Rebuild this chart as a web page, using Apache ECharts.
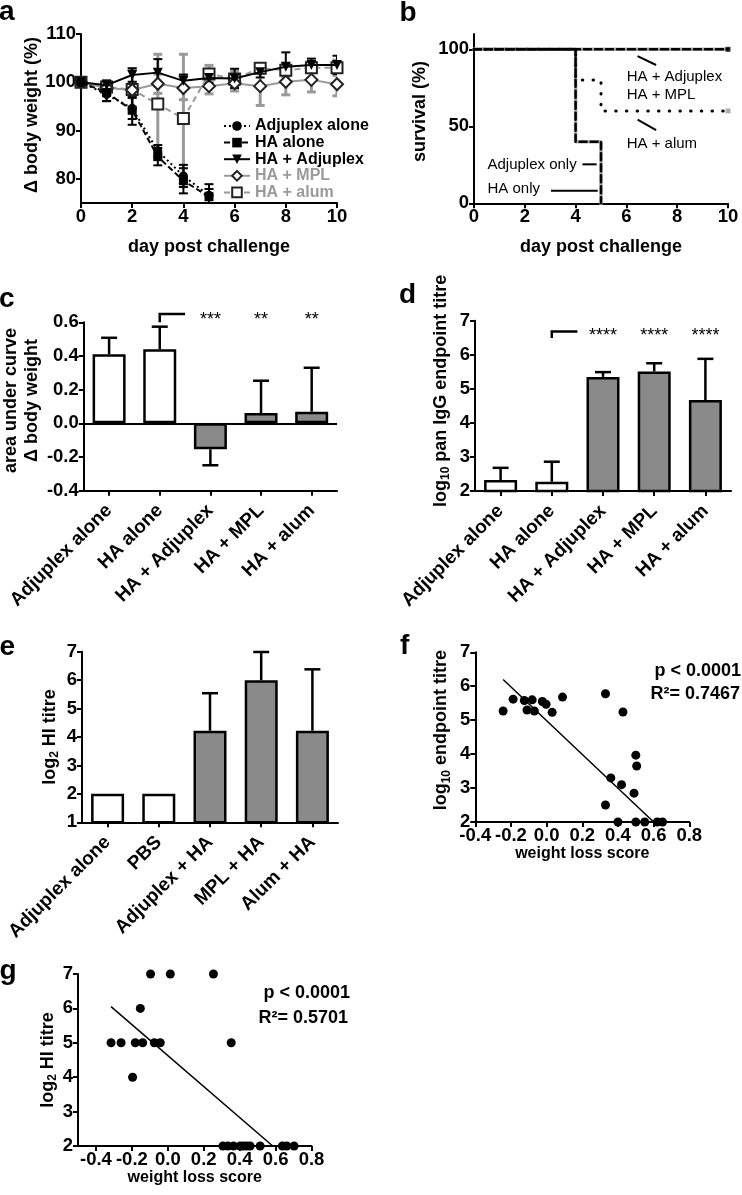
<!DOCTYPE html>
<html><head><meta charset="utf-8">
<script src="https://cdn.jsdelivr.net/npm/echarts@6/dist/echarts.min.js"></script>
<style>html,body{margin:0;padding:0;background:#fff}#c{width:742px;height:1195px}</style>
</head><body><div id="c"></div>
<script>
// ================= DATA =================
// Panel a: body weight (% of day 0), mean and SD
const days = [0, 1, 2, 3, 4, 5, 6, 7, 8, 9, 10];
const adjAloneMean = [100, 97.5, 94.6, 85.8, 80.6, 76.6];
const adjAloneSD   = [0, 1.4, 2.2, 1.2, 2.3, 2.3];
const haAloneMean  = [100, 97.9, 94.2, 84.6, 79.6, 76.3];
const haAloneSD    = [0, 1.8, 3.0, 1.8, 2.6, 1.6];
const haAdjMean    = [100, 99.4, 101.5, 102.0, 100.3, 100.9, 100.8, 102.1, 103.2, 103.6, 103.6];
const haAdjSD      = [0, 1.0, 1.4, 2.8, 1.3, 1.0, 2.0, 1.1, 3.0, 1.3, 1.9];
const haMplMean    = [100, 98.8, 98.4, 99.7, 98.8, 99.2, 99.8, 99.2, 100.1, 100.5, 99.6];
const haMplSD      = [0, 0.8, 1.6, 2.0, 2.4, 1.6, 1.6, 4.0, 2.7, 2.5, 2.4];
const haAlumMean   = [100, 99.0, 98.5, 95.5, 92.5, 101.7, 100.7, 102.9, 102.5, 103.0, 103.0];
const haAlumSD     = [0, 1.0, 4.3, 10.3, 13.3, 1.8, 1.6, 1.0, 1.3, 1.0, 1.6];

// Panel b: survival (%) steps [day, %]
const survHAonly   = [[0, 100], [4, 40], [5, 0]];
const survAdjOnly  = [[0, 100], [4, 40], [5, 0]];
const survHAAdj    = [[0, 100], [10, 100]];
const survHAMPL    = [[0, 100], [10, 100]];
const survHAAlum   = [[0, 100], [4, 80], [5, 60], [10, 60]];
const survCensorBlack = [[10, 100]];
const survCensorGray  = [[10, 60]];

// Panel c: area under curve
const groupCats = ['Adjuplex alone', 'HA alone', 'HA + Adjuplex', 'HA + MPL', 'HA + alum'];
const isAdjuvanted = [false, false, true, true, true];
const aucMean = [0.41, 0.44, -0.154, 0.061, 0.069];
const aucSD   = [0.098, 0.134, 0.095, 0.192, 0.261];
const aucStars = ['', '', '***', '**', '**'];

// Panel d: log10 pan IgG endpoint titre
const igMean = [2.32, 2.27, 5.35, 5.51, 4.67];
const igSD   = [0.36, 0.59, 0.14, 0.24, 1.21];
const igStars = ['', '', '****', '****', '****'];

// Panel e: log2 HI titre
const hiCats = ['Adjuplex alone', 'PBS', 'Adjuplex + HA', 'MPL + HA', 'Alum + HA'];
const hiAdjuvanted = [false, false, true, true, true];
const hiMean = [2, 2, 4.22, 6.0, 4.22];
const hiSD   = [0, 0, 1.32, 0.99, 2.16];

// Panel f: weight loss score vs log10 endpoint titre
const fX = [-0.244, -0.188, -0.125, -0.110, -0.081, -0.069, -0.024, -0.003, 0.031, 0.089, 0.330, 0.428,
            0.500, 0.505, 0.360, 0.420, 0.490, 0.330, 0.400, 0.500, 0.550, 0.620, 0.650];
const fY = [5.27, 5.62, 5.58, 5.30, 5.60, 5.27, 5.55, 5.47, 5.23, 5.68, 5.78, 5.24,
            3.97, 3.65, 3.30, 3.10, 2.85, 2.50, 2.00, 2.00, 2.00, 2.00, 2.00];
const fFit = [[-0.244, 6.2], [0.60, 2.0]];
const fStats = ['p < 0.0001', 'R\u00b2= 0.7467'];

// Panel g: weight loss score vs log2 HI titre
const gX = [-0.096, 0.014, 0.254, -0.153, -0.316, -0.260, -0.181, -0.140, -0.075, -0.042, 0.353, -0.196,
            0.307, 0.334, 0.366, 0.403, 0.421, 0.440, 0.458, 0.514, 0.638, 0.662, 0.703];
const gY = [7, 7, 7, 6, 5, 5, 5, 5, 5, 5, 5, 4,
            2, 2, 2, 2, 2, 2, 2, 2, 2, 2, 2];
const gFit = [[-0.316, 6.05], [0.584, 2.0]];
const gStats = ['p < 0.0001', 'R\u00b2= 0.5701'];

// ================= STYLE =================
const FONT = "'Liberation Sans', Arial, Helvetica, sans-serif";
const TFS = 18.5;
const BLACK = '#000';
const GRAY = '#9a9a9a';
const BAR_GRAY = '#8a8a8a';

const axisLineS = {show: true, onZero: false, lineStyle: {color: BLACK, width: 2}};
const tickS = {show: true, inside: false, length: 5, lineStyle: {color: BLACK, width: 2}};
const labS = (extra) => Object.assign({color: BLACK, fontFamily: FONT, fontWeight: 'bold', fontSize: TFS}, extra || {});
const nameS = (extra) => Object.assign({color: BLACK, fontFamily: FONT, fontWeight: 'bold', fontSize: 18}, extra || {});
const subRich = {
  n: {fontFamily: FONT, fontWeight: 'bold', fontSize: 18, color: BLACK, lineHeight: 22},
  s: {fontFamily: FONT, fontWeight: 'bold', fontSize: 12, color: BLACK, verticalAlign: 'bottom', lineHeight: 12}
};

function valX(gi, min, max, interval, name, gap, extra) {
  return Object.assign({
    type: 'value', gridIndex: gi, min, max, interval,
    axisLine: axisLineS, axisTick: tickS, splitLine: {show: false},
    axisLabel: labS({margin: 4}),
    name, nameLocation: 'middle', nameGap: gap, nameTextStyle: nameS()
  }, extra || {});
}
function valY(gi, min, max, interval, name, gap, extra) {
  return Object.assign({
    type: 'value', gridIndex: gi, min, max, interval,
    axisLine: axisLineS, axisTick: tickS, splitLine: {show: false},
    axisLabel: labS({margin: 5}),
    name, nameLocation: 'middle', nameRotate: 90, nameGap: gap, nameTextStyle: nameS()
  }, extra || {});
}
function catX(gi, cats) {
  return {
    type: 'category', gridIndex: gi, data: cats, boundaryGap: true,
    axisLine: axisLineS, axisTick: Object.assign({}, tickS, {alignWithLabel: true}),
    axisLabel: labS({rotate: 45, interval: 0, margin: 17, fontSize: 19})
  };
}

// Error bars on value axes (both directions)
function errXY(xi, xs, means, sds, color, cap, width, z) {
  return {
    type: 'custom', xAxisIndex: xi, yAxisIndex: xi, z, clip: true, silent: true,
    data: means.map((m, i) => [xs[i], m, sds[i]]),
    renderItem(p, api) {
      const x = api.value(0), m = api.value(1), s = api.value(2);
      if (!s) return null;
      const a = api.coord([x, m - s]), b = api.coord([x, m + s]);
      const st = {stroke: color, lineWidth: width};
      return {type: 'group', children: [
        {type: 'line', shape: {x1: a[0], y1: a[1], x2: b[0], y2: b[1]}, style: st},
        {type: 'line', shape: {x1: a[0] - cap, y1: a[1], x2: a[0] + cap, y2: a[1]}, style: st},
        {type: 'line', shape: {x1: b[0] - cap, y1: b[1], x2: b[0] + cap, y2: b[1]}, style: st}
      ]};
    }
  };
}
// One-sided error bars on bars (away from zero)
function errBar(ai, means, sds) {
  return {
    type: 'custom', xAxisIndex: ai, yAxisIndex: ai, z: 3, silent: true,
    data: means.map((m, i) => [i, m, sds[i]]),
    renderItem(p, api) {
      const i = api.value(0), m = api.value(1), s = api.value(2);
      if (!s) return null;
      const end = m >= 0 ? m + s : m - s;
      const a = api.coord([i, m]), b = api.coord([i, end]);
      const st = {stroke: BLACK, lineWidth: 2.5};
      return {type: 'group', children: [
        {type: 'line', shape: {x1: a[0], y1: a[1], x2: b[0], y2: b[1]}, style: st},
        {type: 'line', shape: {x1: b[0] - 8, y1: b[1], x2: b[0] + 8, y2: b[1]}, style: st}
      ]};
    }
  };
}
// Significance bracket (vs group index 1) and stars
function sigSeries(ai, stars, bracketBase, bracketTop, starY) {
  return {
    type: 'custom', xAxisIndex: ai, yAxisIndex: ai, z: 4, silent: true,
    data: stars.map((s, i) => [i, starY]),
    renderItem(p, api) {
      const i = api.value(0);
      const children = [];
      if (i === 1) {
        const b0 = api.coord([1, bracketBase]), b1 = api.coord([1, bracketTop]), n = api.coord([2, bracketTop]);
        const mid = (b1[0] + n[0]) / 2;
        children.push({type: 'polyline', shape: {points: [[b0[0], b0[1]], [b1[0], b1[1]], [mid, b1[1]]]},
          style: {stroke: BLACK, lineWidth: 2.5, fill: null}});
      }
      if (stars[i]) {
        const c = api.coord([i, api.value(1)]);
        children.push({type: 'text', x: c[0], y: c[1], style: {text: stars[i], fill: BLACK,
          fontFamily: FONT, fontSize: 18, align: 'center', verticalAlign: 'middle'}});
      }
      return {type: 'group', children};
    }
  };
}
function barSeries(ai, means, adj, extra) {
  return Object.assign({
    type: 'bar', xAxisIndex: ai, yAxisIndex: ai, barWidth: 33, z: 2, silent: true,
    data: means.map((v, i) => ({value: v, itemStyle: {color: adj[i] ? BAR_GRAY : '#fff'}})),
    itemStyle: {borderColor: BLACK, borderWidth: 2.5}
  }, extra || {});
}

// Panel b annotations (in data coordinates of panel b)
const bAnnoText = [
  {t: 'HA + Adjuplex', d: 6.01, v: 82.0},
  {t: 'HA + MPL', d: 6.01, v: 70.1},
  {t: 'HA + alum', d: 6.01, v: 38.7},
  {t: 'Adjuplex only', d: 0.53, v: 25.1},
  {t: 'HA only', d: 0.53, v: 9.5}
];
const bAnnoLines = [
  [[6.44, 95.6], [7.17, 89.8]],
  [[6.44, 54.4], [7.17, 47.5]],
  [[4.27, 25.3], [4.83, 25.3]],
  [[3.03, 8.2], [4.87, 8.2]]
];

const chart = echarts.init(document.getElementById('c'), null, {renderer: 'canvas', width: 742, height: 1195});

const series = [];
// ---- Panel a ----
series.push(errXY(0, days, haAlumMean, haAlumSD, GRAY, 4.5, 3, 1));
series.push(errXY(0, days, haMplMean, haMplSD, GRAY, 4.5, 3, 1));
series.push(errXY(0, days, adjAloneMean, adjAloneSD, BLACK, 4.5, 2, 2));
series.push(errXY(0, days, haAloneMean, haAloneSD, BLACK, 4.5, 2, 2));
series.push(errXY(0, days, haAdjMean, haAdjSD, BLACK, 4.5, 2, 2));
const toXY = (xs, ys) => ys.map((y, i) => [xs[i], y]);
series.push({name: 'HA + alum', type: 'line', xAxisIndex: 0, yAxisIndex: 0, z: 3,
  data: toXY(days, haAlumMean), symbol: 'rect', symbolSize: 11,
  itemStyle: {color: '#fff', borderColor: '#222', borderWidth: 2},
  lineStyle: {color: GRAY, width: 2, type: [6, 4]}});
series.push({name: 'HA + MPL', type: 'line', xAxisIndex: 0, yAxisIndex: 0, z: 3,
  data: toXY(days, haMplMean), symbol: 'diamond', symbolSize: 12,
  itemStyle: {color: '#fff', borderColor: '#222', borderWidth: 2},
  lineStyle: {color: GRAY, width: 2}});
series.push({name: 'Adjuplex alone', type: 'line', xAxisIndex: 0, yAxisIndex: 0, z: 4,
  data: toXY(days, adjAloneMean), symbol: 'circle', symbolSize: 9,
  itemStyle: {color: BLACK}, lineStyle: {color: BLACK, width: 2, type: [2, 3]}});
series.push({name: 'HA alone', type: 'line', xAxisIndex: 0, yAxisIndex: 0, z: 4,
  data: toXY(days, haAloneMean), symbol: 'rect', symbolSize: 9,
  itemStyle: {color: BLACK}, lineStyle: {color: BLACK, width: 2, type: [6, 3]}});
series.push({name: 'HA + Adjuplex', type: 'line', xAxisIndex: 0, yAxisIndex: 0, z: 4,
  data: toXY(days, haAdjMean), symbol: 'triangle', symbolRotate: 180, symbolSize: 10,
  itemStyle: {color: BLACK}, lineStyle: {color: BLACK, width: 2}});

// ---- Panel b ----
const stepLine = (data, color, width, type, z) => ({type: 'line', xAxisIndex: 1, yAxisIndex: 1, step: 'end',
  data, symbol: 'none', z, lineStyle: {color, width, type, cap: 'round'}, silent: true});
series.push(stepLine(survAdjOnly, '#aaa', 3.5, 'solid', 2));
series.push(stepLine(survHAMPL, '#aaa', 3.5, 'solid', 2));
series.push(stepLine(survHAonly, BLACK, 2.5, [7, 4], 3));
series.push(stepLine(survHAAdj, BLACK, 2.5, [7, 4], 3));
series.push(stepLine(survHAAlum, BLACK, 3, [0.5, 10.2], 4));
series.push({type: 'scatter', xAxisIndex: 1, yAxisIndex: 1, data: survCensorBlack, symbol: 'rect', symbolSize: 5, itemStyle: {color: BLACK}, z: 5});
series.push({type: 'scatter', xAxisIndex: 1, yAxisIndex: 1, data: survCensorGray, symbol: 'rect', symbolSize: 5, itemStyle: {color: GRAY}, z: 5});
series.push({type: 'custom', xAxisIndex: 1, yAxisIndex: 1, z: 6, silent: true,
  data: bAnnoText.map(a => [a.d, a.v]),
  renderItem(p, api) {
    const c = api.coord([api.value(0), api.value(1)]);
    const children = [{type: 'text', x: c[0], y: c[1], style: {text: bAnnoText[p.dataIndex].t, fill: BLACK,
      fontFamily: FONT, fontSize: 15, align: 'left', verticalAlign: 'middle'}}];
    if (p.dataIndex === 0) {
      bAnnoLines.forEach(l => {
        const a = api.coord(l[0]), b = api.coord(l[1]);
        children.push({type: 'line', shape: {x1: a[0], y1: a[1], x2: b[0], y2: b[1]}, style: {stroke: BLACK, lineWidth: 2}});
      });
    }
    return {type: 'group', children};
  }});

// ---- Panel c ----
series.push(barSeries(2, aucMean, isAdjuvanted, {
  markLine: {silent: true, symbol: 'none', label: {show: false}, animation: false,
    lineStyle: {color: BLACK, width: 2, type: 'solid'}, data: [{yAxis: 0}]}
}));
series.push(errBar(2, aucMean, aucSD));
series.push(sigSeries(2, aucStars, 0.6, 0.65, 0.615));

// ---- Panel d ----
series.push(barSeries(3, igMean, isAdjuvanted));
series.push(errBar(3, igMean, igSD));
series.push(sigSeries(3, igStars, 6.49, 6.68, 6.54));

// ---- Panel e ----
series.push(barSeries(4, hiMean, hiAdjuvanted));
series.push(errBar(4, hiMean, hiSD));

// ---- Panel f ----
series.push({type: 'line', xAxisIndex: 5, yAxisIndex: 5, data: fFit, symbol: 'none', z: 2,
  lineStyle: {color: BLACK, width: 1.5}, silent: true});
series.push({type: 'scatter', xAxisIndex: 5, yAxisIndex: 5, data: toXY(fX, fY), symbol: 'circle', symbolSize: 9,
  itemStyle: {color: BLACK, opacity: 1}, z: 3, clip: false});

// ---- Panel g ----
series.push({type: 'line', xAxisIndex: 6, yAxisIndex: 6, data: gFit, symbol: 'none', z: 2,
  lineStyle: {color: BLACK, width: 1.5}, silent: true});
series.push({type: 'scatter', xAxisIndex: 6, yAxisIndex: 6, data: toXY(gX, gY), symbol: 'circle', symbolSize: 9,
  itemStyle: {color: BLACK, opacity: 1}, z: 3, clip: false});

const letter = (t, x, y) => ({type: 'text', x, y, style: {text: t, fill: BLACK, fontFamily: FONT, fontWeight: 'bold',
  fontSize: 28, align: 'left', verticalAlign: 'middle'}});
const statText = (t, x, y) => ({type: 'text', x, y, style: {text: t, fill: BLACK, fontFamily: FONT, fontWeight: 'bold',
  fontSize: 18, align: 'right', verticalAlign: 'middle'}});

const gXTicks = [-0.4, -0.2, 0, 0.2, 0.4, 0.6, 0.8];

const option = {
  animation: false,
  backgroundColor: '#fff',
  grid: [
    {left: 81, top: 34, width: 256, height: 169},
    {left: 474, top: 33.9, width: 254, height: 169.4},
    {left: 82, top: 322.3, width: 255, height: 168.4},
    {left: 475, top: 320.7, width: 256, height: 170.3},
    {left: 82, top: 651.7, width: 256, height: 170.6},
    {left: 475.3, top: 652.3, width: 214, height: 169.7},
    {left: 78, top: 974, width: 233.5, height: 172}
  ],
  xAxis: [
    valX(0, 0, 10, 2, 'day post challenge', 35),
    valX(1, 0, 10, 2, 'day post challenge', 35),
    catX(2, groupCats),
    catX(3, groupCats),
    catX(4, hiCats),
    valX(5, -0.4, 0.8, 0.2, 'weight loss score', 22, {
      axisLabel: labS({margin: 4, formatter: v => v.toFixed(1)}),
      nameTextStyle: nameS({fontSize: 16})}),
    valX(6, -0.5, 0.8, 0.1, 'weight loss score', 22, {
      axisLabel: labS({margin: 4, customValues: gXTicks, formatter: v => v.toFixed(1)}),
      axisTick: Object.assign({}, tickS, {customValues: gXTicks}),
      nameTextStyle: nameS({fontSize: 16})})
  ],
  yAxis: [
    valY(0, 75, 110, 5, '\u0394 body weight (%)', 32, {
      axisLabel: labS({margin: 5, customValues: [80, 90, 100, 110]}),
      axisTick: Object.assign({}, tickS, {customValues: [80, 90, 100, 110]}),
      nameTextStyle: nameS({padding: [0, 0, 0, 7]})}),
    valY(1, 0, 110, 10, 'survival (%)', 45, {
      axisLabel: labS({margin: 5, customValues: [0, 50, 100]}),
      axisTick: Object.assign({}, tickS, {customValues: [0, 50, 100]}),
      nameTextStyle: nameS({padding: [0, 0, 0, 14]})}),
    valY(2, -0.4, 0.6, 0.2, 'area under curve\n\u0394 body weight', 32, {
      axisLabel: labS({margin: 5, formatter: v => v.toFixed(1)}),
      nameTextStyle: nameS({lineHeight: 21, padding: [0, 0, 0, 12]})}),
    valY(3, 2, 7, 1, '{n|log}{s|10}{n| pan IgG endpoint titre}', 23, {
      nameTextStyle: nameS({rich: subRich, padding: [0, 0, 0, 30]})}),
    valY(4, 1, 7, 1, '{n|log}{s|2}{n| HI titre}', 21, {
      nameTextStyle: nameS({rich: subRich})}),
    valY(5, 2, 7, 1, '{n|log}{s|10}{n| endpoint titre}', 23, {
      nameTextStyle: nameS({rich: subRich, padding: [0, 0, 0, 14]})}),
    valY(6, 2, 7, 1, '{n|log}{s|2}{n| HI titre}', 19, {
      nameTextStyle: nameS({rich: subRich})})
  ],
  legend: {
    orient: 'vertical', left: 218, top: 113, itemWidth: 26, itemHeight: 12, itemGap: 0.6,
    selectedMode: false,
    textStyle: {fontFamily: FONT, fontWeight: 'bold', fontSize: 16, color: BLACK},
    data: [
      {name: 'Adjuplex alone'},
      {name: 'HA alone'},
      {name: 'HA + Adjuplex'},
      {name: 'HA + MPL', textStyle: {color: GRAY}},
      {name: 'HA + alum', textStyle: {color: GRAY}}
    ]
  },
  graphic: [
    letter('a', -1, 12.3), letter('b', 399.5, 13.3), letter('c', -1, 299.3), letter('d', 399, 295.3),
    letter('e', -0.5, 647.3), letter('f', 400, 646.3), letter('g', -0.5, 971.3),
    statText(fStats[0], 741, 671.1), statText(fStats[1], 740, 694.4),
    statText(gStats[0], 350, 993.4), statText(gStats[1], 348, 1017.7)
  ],
  series
};
chart.setOption(option);
</script></body></html>
